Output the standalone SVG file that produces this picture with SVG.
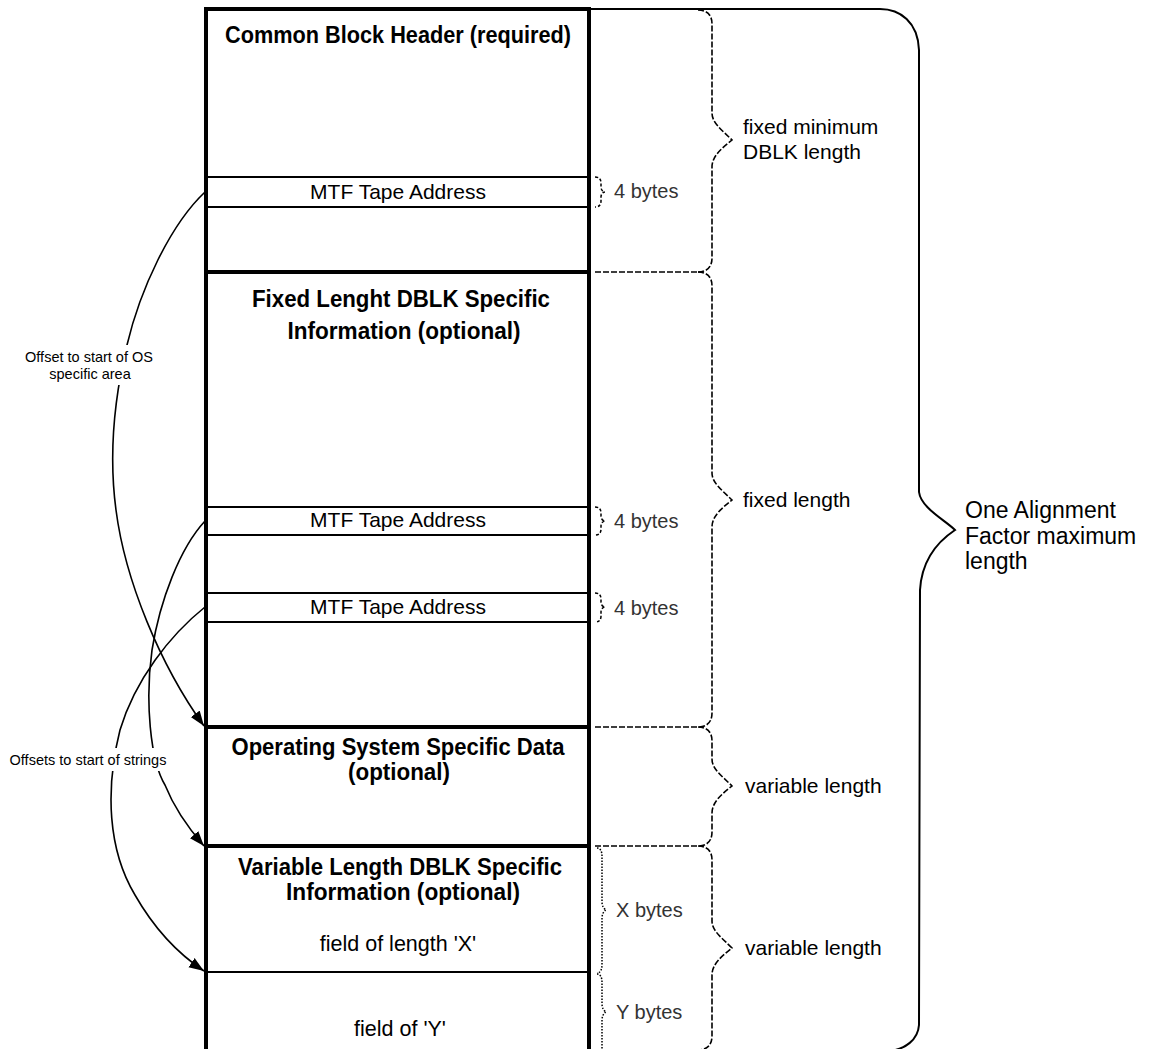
<svg xmlns="http://www.w3.org/2000/svg" width="1150" height="1049" viewBox="0 0 1150 1049">
<defs>
<style>
.title{font-family:"Liberation Sans",Arial,sans-serif;font-weight:bold;font-size:23.5px;fill:#000;text-anchor:middle}
.field{font-family:"Liberation Sans",Arial,sans-serif;font-size:21px;fill:#000;text-anchor:middle}
.lbl{font-family:"Liberation Sans",Arial,sans-serif;font-size:21px;fill:#000}
.big{font-family:"Liberation Sans",Arial,sans-serif;font-size:23px;fill:#000}
.bytes{font-family:"Liberation Sans",Arial,sans-serif;font-size:20px;fill:#333}
.note{font-family:"Liberation Sans",Arial,sans-serif;font-size:14.5px;fill:#000;text-anchor:middle}
.thick{stroke:#000;stroke-width:4;fill:none}
.thin{stroke:#000;stroke-width:2;fill:none}
.brace{stroke:#000;stroke-width:1.6;fill:none;stroke-dasharray:6 2}
.sbrace{stroke:#000;stroke-width:1.5;fill:none;stroke-dasharray:3 2}
.dbrace{stroke:#000;stroke-width:1.5;fill:none;stroke-dasharray:1.5 1.5}
.bigbrace{stroke:#000;stroke-width:2;fill:none}
.conn{stroke:#000;stroke-width:1.6;fill:none;marker-end:url(#arrow)}
.mask{fill:#fff}
</style>
<marker id="arrow" markerUnits="userSpaceOnUse" markerWidth="16" markerHeight="12" refX="15" refY="6" orient="auto"><path d="M0,0.5 L15,6 L0,11.5 z" fill="#000"/></marker>
</defs>
<rect width="1150" height="1049" fill="#fff"/>

<g id="connectors">
<path class="conn" d="M 205 192 C 170 225, 140 290, 127 345 C 115 395, 108 450, 116 510 C 125 580, 160 665, 204 726"/>
<path class="conn" d="M 205 521 C 180 548, 160 600, 152 650 C 145 700, 150 760, 165 785 C 175 810, 190 830, 204 846"/>
<path class="conn" d="M 205 607 C 170 635, 135 680, 120 730 C 105 790, 108 850, 135 895 C 155 930, 180 955, 204 971"/>
<rect class="mask" x="18" y="345" width="142" height="40"/>
<rect class="mask" x="5" y="748" width="167" height="23"/>
<text class="note" x="89" y="362">Offset to start of OS</text>
<text class="note" x="90" y="379">specific area</text>
<text class="note" x="88" y="765">Offsets to start of strings</text>
</g>

<g id="frame">
<line class="thick" x1="206" y1="7" x2="206" y2="1049"/>
<line class="thick" x1="589" y1="7" x2="589" y2="1049"/>
<line class="thick" x1="204" y1="9" x2="591" y2="9"/>
<line class="thick" x1="204" y1="272" x2="591" y2="272"/>
<line class="thick" x1="204" y1="727" x2="591" y2="727"/>
<line class="thick" x1="204" y1="846" x2="591" y2="846"/>
</g>

<g id="common-block-header">
<text class="title" x="398" y="43" textLength="346" lengthAdjust="spacingAndGlyphs">Common Block Header (required)</text>
<line class="thin" x1="206" y1="177" x2="589" y2="177"/>
<line class="thin" x1="206" y1="207" x2="589" y2="207"/>
<text class="field" x="398" y="199">MTF Tape Address</text>
</g>

<g id="fixed-length-dblk">
<text class="title" x="401" y="307" textLength="298" lengthAdjust="spacingAndGlyphs">Fixed Lenght DBLK Specific</text>
<text class="title" x="404" y="339" textLength="233" lengthAdjust="spacingAndGlyphs">Information (optional)</text>
<line class="thin" x1="206" y1="507" x2="589" y2="507"/>
<line class="thin" x1="206" y1="535" x2="589" y2="535"/>
<text class="field" x="398" y="527">MTF Tape Address</text>
<line class="thin" x1="206" y1="593" x2="589" y2="593"/>
<line class="thin" x1="206" y1="622" x2="589" y2="622"/>
<text class="field" x="398" y="614">MTF Tape Address</text>
</g>

<g id="os-specific-data">
<text class="title" x="398" y="755" textLength="333" lengthAdjust="spacingAndGlyphs">Operating System Specific Data</text>
<text class="title" x="399" y="780" textLength="102" lengthAdjust="spacingAndGlyphs">(optional)</text>
</g>

<g id="variable-length-dblk">
<text class="title" x="400" y="875" textLength="324" lengthAdjust="spacingAndGlyphs">Variable Length DBLK Specific</text>
<text class="title" x="403" y="900" textLength="234" lengthAdjust="spacingAndGlyphs">Information (optional)</text>
<text class="field" x="398" y="951" style="font-size:21.5px">field of length 'X'</text>
<line class="thin" x1="206" y1="972" x2="589" y2="972"/>
<text class="field" x="400" y="1036" style="font-size:21.5px">field of 'Y'</text>
</g>

<g id="braces">
<path class="sbrace" d="M 595 177 C 599 177, 601 179, 601 183 L 601 187 C 601 190, 603 192, 605 192 C 603 192, 601 194, 601 197 L 601 201 C 601 205, 599 207, 595 207"/>
<text class="bytes" x="614" y="198">4 bytes</text>
<path class="sbrace" d="M 595 507 C 599 507, 601 509, 601 513 L 601 516 C 601 519, 603 521, 605 521 C 603 521, 601 523, 601 526 L 601 529 C 601 533, 599 535, 595 535"/>
<text class="bytes" x="614" y="528">4 bytes</text>
<path class="sbrace" d="M 595 593 C 599 593, 601 595, 601 599 L 601 602 C 601 605, 603 607, 605 607 C 603 607, 601 609, 601 612 L 601 616 C 601 620, 599 622, 595 622"/>
<text class="bytes" x="614" y="615">4 bytes</text>

<path class="dbrace" d="M 597 848 C 600 848, 602 851, 602 856 L 602 902 C 602 906, 604 909, 606 910 C 604 911, 602 914, 602 918 L 602 965 C 602 970, 600 973, 597 973"/>
<text class="bytes" x="616" y="917">X bytes</text>
<path class="dbrace" d="M 597 974 C 600 974, 602 977, 602 982 L 602 1004 C 602 1008, 604 1011, 606 1012 C 604 1013, 602 1016, 602 1020 L 602 1050"/>
<text class="bytes" x="616" y="1019">Y bytes</text>

<path class="brace" d="M 698 10 C 706 10, 712 14, 712 24 L 712 113 C 712 123, 722 130, 732 140 C 722 148, 712 156, 712 167 L 712 258 C 712 268, 706 272, 698 272"/>
<line class="brace" x1="595" y1="272" x2="698" y2="272"/>
<text class="lbl" x="743" y="134">fixed minimum</text>
<text class="lbl" x="743" y="159">DBLK length</text>

<path class="brace" d="M 698 272 C 706 272, 712 276, 712 286 L 712 473 C 712 483, 722 490, 732 500 C 722 508, 712 516, 712 527 L 712 713 C 712 723, 706 727, 698 727"/>
<line class="brace" x1="595" y1="727" x2="698" y2="727"/>
<text class="lbl" x="743" y="507">fixed length</text>

<path class="brace" d="M 698 727 C 706 727, 712 731, 712 741 L 712 759 C 712 769, 722 776, 732 786 C 722 794, 712 802, 712 813 L 712 832 C 712 842, 706 846, 698 846"/>
<line class="brace" x1="595" y1="846" x2="698" y2="846"/>
<text class="lbl" x="745" y="793">variable length</text>

<path class="brace" d="M 698 846 C 706 846, 712 850, 712 860 L 712 921 C 712 931, 722 938, 732 948 C 722 956, 712 964, 712 975 L 712 1036 C 712 1046, 706 1050, 698 1050"/>
<text class="lbl" x="745" y="955">variable length</text>

<path class="bigbrace" d="M 591 9 L 880 9 C 900 9, 918 22, 919 50 L 919 492 C 921 508, 945 520, 955 530 C 943 538, 922 556, 920 590 L 919 1025 C 918 1040, 905 1049, 890 1051"/>
<text class="big" x="965" y="518">One Alignment</text>
<text class="big" x="965" y="544">Factor maximum</text>
<text class="big" x="965" y="569">length</text>
</g>
</svg>
